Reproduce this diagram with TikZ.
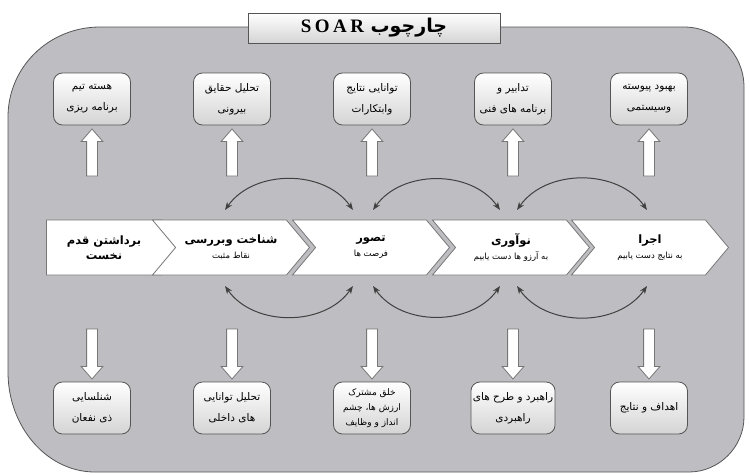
\documentclass[tikz,border=0pt]{standalone}
\usepackage{fontspec}
\usepackage{tikz}
\usetikzlibrary{positioning, shapes.symbols, shapes.arrows, arrows.meta}
\newfontfamily\fa[Script=Arabic]{DejaVu Sans}
\newfontfamily\latn[LetterSpace=18]{Liberation Serif}
\TeXXeTstate=1
\newcommand{\rtlline}[1]{\beginR#1\endR}
\newcommand{\chtitle}[1]{{\fontsize{11.5}{19}\selectfont\bfseries\beginR#1\endR}}
\definecolor{panel}{RGB}{190,190,194}
\definecolor{edge}{RGB}{85,85,85}
\definecolor{boxbot}{RGB}{212,212,212}
\tikzset{
    panelbg/.style={draw=edge, fill=panel, line width=0.8pt},
    titlebox/.style={rectangle, draw=edge, top color=white, bottom color=boxbot, minimum width=252pt, minimum height=30pt, font=\fa\bfseries\fontsize{19}{22}\selectfont},
    topbox/.style={rectangle, rounded corners=9pt, draw=edge, top color=white, bottom color=boxbot, line width=0.8pt, minimum width=77pt, minimum height=52pt, align=center, inner sep=2pt, font=\fa\fontsize{10.5}{21}\selectfont},
    botbox/.style={topbox},
    firstchev/.style={signal, signal to=east, signal pointer angle=100, draw=edge!80, fill=white, line width=0.8pt, minimum height=55pt, minimum width=138pt, align=center, inner sep=1pt, font=\fa\fontsize{8.5}{15}\selectfont},
    chev/.style={firstchev, signal from=west, minimum width=157pt},
    uparr/.style={single arrow, shape border rotate=90, draw=edge!80, fill=white, line width=0.8pt, minimum height=47pt, single arrow head extend=5.5pt, single arrow tip angle=82, inner xsep=5pt, inner ysep=0pt},
    downarr/.style={uparr, shape border rotate=270, minimum height=50pt},
    cyc/.style={{Stealth[length=8pt,width=6pt]}-{Stealth[length=8pt,width=6pt]}, draw=black!75, line width=1pt},
}
\begin{document}
\begin{tikzpicture}[x=1pt, y=-1pt]
    \useasboundingbox (0,0) rectangle (750,475);
    \draw[panelbg] (8,117) .. controls (8,67) and (49,27) .. (100,27) -- (684,27) .. controls (717,27) and (744,54) .. (744,87) -- (744,417) .. controls (744,447) and (719,472) .. (689,472) -- (95,472) .. controls (47,472) and (8,427) .. (8,372) -- cycle;
    \node [titlebox] (title) at (374,28) {\rtlline{چارچوب \beginL{\latn SOAR}\endL}};
    \node [topbox] (t1) at (92,99) {\rtlline{هسته تیم}\\\rtlline{برنامه ریزی}};
    \node [topbox] (t2) at (232,99) {\rtlline{تحلیل حقایق}\\\rtlline{بیرونی}};
    \node [topbox] (t3) at (372,99) {\rtlline{توانایی نتایج}\\\rtlline{وابتکارات}};
    \node [topbox] (t4) at (513,99) {\rtlline{تدابیر و}\\\rtlline{برنامه های فنی}};
    \node [topbox] (t5) at (649,99) {\rtlline{بهبود پیوسته}\\\rtlline{وسیستمی}};
    \node [uparr] (u1) [below=3pt of t1] {};
    \node [uparr] (u2) [below=3pt of t2] {};
    \node [uparr] (u3) [below=3pt of t3] {};
    \node [uparr] (u4) [below=3pt of t4] {};
    \node [uparr] (u5) [below=3pt of t5] {};
    \node [firstchev] (c1) at (104,247.5) {\chtitle{برداشتن قدم}\\\chtitle{نخست}};
    \node [chev] (c2) at (231,247.5) {\chtitle{شناخت وبررسی}\\\rtlline{نقاط مثبت}};
    \node [chev] (c3) at (371,247.5) {\chtitle{تصور}\\\rtlline{فرصت ها}};
    \node [chev] (c4) at (511,247.5) {\chtitle{نوآوری}\\\rtlline{به آرزو ها دست یابیم}};
    \node [chev] (c5) at (650,247.5) {\chtitle{اجرا}\\\rtlline{به نتایج دست یابیم}};
    \node [botbox] (b1) at (92,408) {\rtlline{شنلسایی}\\\rtlline{ذی نفعان}};
    \node [botbox] (b2) at (232,408) {\rtlline{تحلیل توانایی}\\\rtlline{های داخلی}};
    \node [botbox, font=\fa\fontsize{9}{15}\selectfont] (b3) at (372,408) {\rtlline{خلق مشترک}\\\rtlline{ارزش ها، چشم}\\\rtlline{انداز و وظایف}};
    \node [botbox] (b4) at (513,408) {\rtlline{راهبرد و طرح های}\\\rtlline{راهبردی}};
    \node [botbox] (b5) at (649,408) {\rtlline{اهداف و نتایج}};
    \node [downarr] (d1) [above=2pt of b1] {};
    \node [downarr] (d2) [above=2pt of b2] {};
    \node [downarr] (d3) [above=2pt of b3] {};
    \node [downarr] (d4) [above=2pt of b4] {};
    \node [downarr] (d5) [above=2pt of b5] {};
    \coordinate (a1) at (225,210);
    \coordinate (a2) at (353,210);
    \coordinate (a3) at (373,210);
    \coordinate (a4) at (500,210);
    \coordinate (a5) at (517,210);
    \coordinate (a6) at (647,210);
    \coordinate (z1) at (225,286);
    \coordinate (z2) at (353,286);
    \coordinate (z3) at (373,286);
    \coordinate (z4) at (500,286);
    \coordinate (z5) at (517,286);
    \coordinate (z6) at (647,286);
    \draw[cyc] (a1) to[bend left=55] (a2);
    \draw[cyc] (a3) to[bend left=55] (a4);
    \draw[cyc] (a5) to[bend left=55] (a6);
    \draw[cyc] (z1) to[bend right=55] (z2);
    \draw[cyc] (z3) to[bend right=55] (z4);
    \draw[cyc] (z5) to[bend right=55] (z6);
\end{tikzpicture}
\end{document}
